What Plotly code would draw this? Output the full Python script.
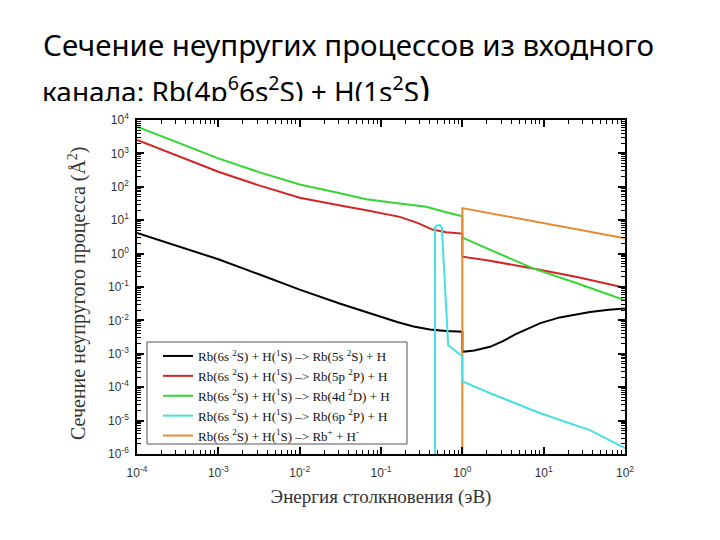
import plotly.graph_objects as go

# ---------------- data ----------------
x_black = [1e-4, 3.16e-4, 1e-3, 3.16e-3, 1e-2, 3.16e-2, 0.063, 0.1, 0.158, 0.251, 0.398, 0.631, 1.0,
           1.0, 1.41, 2.19, 3.16, 4.47, 6.31, 9.12, 15.8, 25.1, 37.2, 63.1, 100]
y_black = [4.17, 1.66, 0.676, 0.240, 0.0832, 0.0316, 0.0186, 0.0132, 0.00891, 0.00661, 0.00537, 0.00479, 0.00457,
           0.00115, 0.00126, 0.00162, 0.0024, 0.0038, 0.0056, 0.0083, 0.0123, 0.0151, 0.0178, 0.0209, 0.0229]

x_red = [1e-4, 3.16e-4, 1e-3, 3.16e-3, 1e-2, 3.16e-2, 0.066, 0.17, 0.28, 0.43, 0.63, 1.0,
         1.0, 2.0, 4.0, 7.4, 25.7, 100]
y_red = [2512, 851, 282, 110, 46.8, 27.5, 20.0, 12.6, 8.3, 5.25, 4.37, 3.98,
         0.81, 0.63, 0.48, 0.36, 0.2, 0.095]

x_green = [1e-4, 3.16e-4, 1e-3, 3.16e-3, 1e-2, 2.6e-2, 6.6e-2, 0.17, 0.36, 0.6, 1.0,
           1.0, 7.4, 25.7, 100]
y_green = [6310, 2138, 708, 275, 117, 70.8, 42.7, 31.6, 25.1, 18.0, 13.0,
           3.0, 0.36, 0.13, 0.04]

x_cyan = [0.462, 0.462, 0.49, 0.53, 0.56, 0.67, 1.0, 1.0, 2.2, 9.1, 37, 100]
y_cyan = [1e-9, 6.0, 7.0, 7.0, 6.0, 0.0018, 0.00085, 1.5e-4, 6.6e-5, 1.66e-5, 5.2e-6, 1.5e-6]

x_orange = [1.0, 1.0, 100]
y_orange = [1e-9, 23, 2.9]

series_names = [
    "Rb(6s <sup>2</sup>S) + H(<sup>1</sup>S) –> Rb(5s <sup>2</sup>S) + H",
    "Rb(6s <sup>2</sup>S) + H(<sup>1</sup>S) –> Rb(5p <sup>2</sup>P) + H",
    "Rb(6s <sup>2</sup>S) + H(<sup>1</sup>S) –> Rb(4d <sup>2</sup>D) + H",
    "Rb(6s <sup>2</sup>S) + H(<sup>1</sup>S) –> Rb(6p <sup>2</sup>P) + H",
    "Rb(6s <sup>2</sup>S) + H(<sup>1</sup>S) –> Rb<sup>+</sup> + H<sup>-</sup>",
]
colors = ["#000000", "#d42424", "#33d633", "#45e0e6", "#e88a30"]

x_tickvals = [1e-4, 1e-3, 1e-2, 1e-1, 1e0, 1e1, 1e2]
x_ticktext = ["10<sup>-4</sup>", "10<sup>-3</sup>", "10<sup>-2</sup>", "10<sup>-1</sup>",
              "10<sup>0</sup>", "10<sup>1</sup>", "10<sup>2</sup>"]
y_tickvals = [1e-6, 1e-5, 1e-4, 1e-3, 1e-2, 1e-1, 1e0, 1e1, 1e2, 1e3, 1e4]
y_ticktext = ["10<sup>-6</sup>", "10<sup>-5</sup>", "10<sup>-4</sup>", "10<sup>-3</sup>",
              "10<sup>-2</sup>", "10<sup>-1</sup>", "10<sup>0</sup>", "10<sup>1</sup>",
              "10<sup>2</sup>", "10<sup>3</sup>", "10<sup>4</sup>"]

title_line1 = "Сечение неупругих процессов из входного"
title_line2 = "канала: Rb(4p<sup>6</sup>6s<sup>2</sup>S) + H(1s<sup>2</sup>S<span style='font-size:36px'>)</span>"
x_title = "Энергия столкновения (эВ)"
y_title = "Сечение неупругого процесса (Å<sup>2</sup>)"

# ---------------- layout helpers ----------------
# the page shows the figure with an 8 px body margin, so the figure is drawn
# 8 px smaller and all reference pixel positions are shifted by that offset
OFF = 8
W, H = 720 - OFF, 540 - OFF
PL, PR, PT, PB = 137 - OFF, 625 - OFF, 120 - OFF, 454 - OFF
PW, PH = PR - PL, PB - PT

def fx(px):
    return (px - OFF - PL) / PW

def fy(py):
    return (PB - (py - OFF)) / PH

def minor_vals(lo, hi):
    vals = []
    for e in range(lo, hi):
        for m in range(2, 10):
            vals.append(m * 10.0 ** e)
    return vals

fig = go.Figure()

data = [(x_black, y_black), (x_red, y_red), (x_green, y_green), (x_cyan, y_cyan), (x_orange, y_orange)]
draw_order = [0, 1, 2, 4, 3]   # cyan drawn on top of orange
for i in draw_order:
    xs, ys = data[i]
    fig.add_trace(go.Scatter(
        x=xs, y=ys, mode="lines", name=series_names[i],
        line=dict(color=colors[i], width=2),
        legendrank=i + 1, cliponaxis=True,
    ))

axis_common = dict(
    type="log", showline=True, linecolor="#000000", linewidth=1.6, mirror="allticks",
    ticks="inside", ticklen=7, tickwidth=1.5, tickcolor="#000000",
    showgrid=False, zeroline=False, automargin=False,
    tickfont=dict(family="Liberation Sans", size=12, color="#333333"),
)

fig.update_layout(
    width=W, height=H,
    margin=dict(l=PL, r=W - PR, t=PT, b=H - PB, autoexpand=False),
    paper_bgcolor="#ffffff", plot_bgcolor="#ffffff",
    xaxis=dict(
        **axis_common,
        range=[-4, 2], tickmode="array", tickvals=x_tickvals, ticktext=x_ticktext,
        minor=dict(ticks="inside", ticklen=4, tickwidth=1, tickcolor="#000000",
                   tickmode="array", tickvals=minor_vals(-4, 2)),
        ticklabelstandoff=7,
        title=dict(text=x_title, font=dict(family="Liberation Serif", size=19, color="#333333"),
                   standoff=10),
    ),
    yaxis=dict(
        **axis_common,
        range=[-6, 4], tickmode="array", tickvals=y_tickvals, ticktext=y_ticktext,
        minor=dict(ticks="inside", ticklen=4, tickwidth=1, tickcolor="#000000",
                   tickmode="array", tickvals=minor_vals(-6, 4)),
        ticklabelstandoff=4,
    ),
    showlegend=True,
    legend=dict(
        x=fx(158), y=fy(341), xanchor="left", yanchor="top",
        bgcolor="rgba(0,0,0,0)", borderwidth=0,
        font=dict(family="Liberation Serif", size=13, color="#111111"),
        itemwidth=30, tracegroupgap=0,
    ),
    shapes=[dict(
        type="rect", xref="paper", yref="paper",
        x0=fx(147), x1=fx(407), y0=fy(444), y1=fy(342),
        line=dict(color="#555555", width=1), fillcolor="#ffffff", layer="above",
    )],
    annotations=[
        dict(text=title_line1, xref="paper", yref="paper", x=fx(41), y=fy(45),
             xanchor="left", yanchor="middle", showarrow=False, align="left",
             font=dict(family="Noto Sans", size=29.5, color="#000000")),
        dict(text=title_line2, xref="paper", yref="paper", x=fx(41), y=fy(63),
             xanchor="left", yanchor="top", showarrow=False, align="left",
             valign="top", height=37, borderpad=0,
             font=dict(family="Noto Sans", size=28, color="#000000")),
        dict(text=y_title, xref="paper", yref="paper", x=fx(77), y=fy(293),
             xanchor="center", yanchor="middle", showarrow=False, textangle=-90,
             font=dict(family="Liberation Serif", size=20, color="#333333")),
    ],
)

fig.write_html("out.html")
